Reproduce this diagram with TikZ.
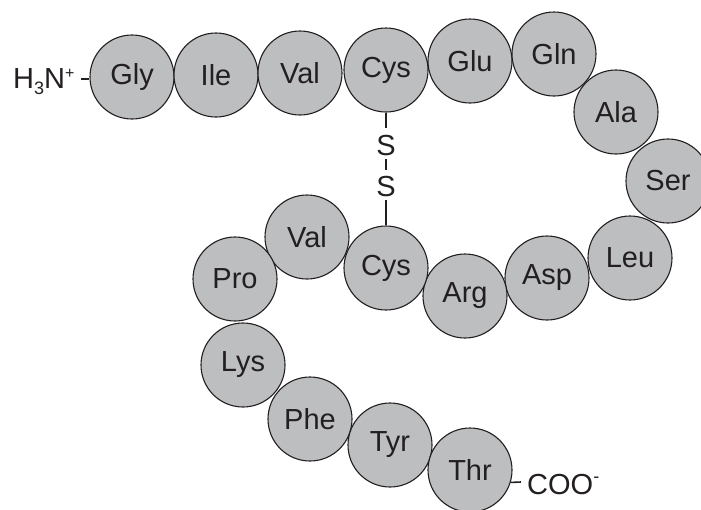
\documentclass[tikz,border=0pt]{standalone}
\usepackage{fontspec}
\setmainfont{Liberation Sans}
\definecolor{aafill}{RGB}{188,190,192}
\definecolor{ink}{RGB}{35,31,32}
\begin{document}
\begin{tikzpicture}[x=1pt,y=-1pt,
  aa/.style={circle,draw=ink,fill=aafill,line width=1.1pt,minimum size=84pt,inner sep=0pt,text=ink,font=\fontsize{29}{31}\selectfont},
  lbl/.style={inner sep=0pt,text=ink,font=\fontsize{29}{31}\selectfont},
  bond/.style={draw=ink,line width=1.6pt}]
\useasboundingbox (0,0) rectangle (701,509);
% backbone residues
\node[aa] (gly) at (132,77) {Gly};
\node[aa] (ile) at (216,75) {Ile};
\node[aa] (val1) at (300,73) {Val};
\node[aa] (cys1) at (386,70) {Cys};
\node[aa] (glu) at (470,61) {Glu};
\node[aa] (gln) at (554,54) {Gln};
\node[aa] (ala) at (616,112) {Ala};
\node[aa] (ser) at (668,181) {Ser};
\node[aa] (leu) at (630,258) {Leu};
\node[aa] (asp) at (547,278) {Asp};
\node[aa] (arg) at (465,296) {Arg};
\node[aa] (cys2) at (386,268) {Cys};
\node[aa] (val2) at (307,237) {Val};
\node[aa] (pro) at (235,279) {Pro};
\node[aa] (lys) at (243,365) {Lys};
\node[aa] (phe) at (310,419) {Phe};
\node[aa] (tyr) at (390,445) {Tyr};
\node[aa] (thr) at (470,470) {Thr};
% termini
\node[lbl,anchor=base west] (nterm) at (13,88) {H\raisebox{-6pt}{\fontsize{18}{20}\selectfont 3}N\raisebox{10pt}{\fontsize{16}{20}\selectfont +}};
\coordinate (ndash) at (81,79);
\draw[bond] (ndash) -- (gly.west |- ndash);
\node[lbl,anchor=base west] (cterm) at (527,494) {COO\raisebox{12pt}{\fontsize{18}{20}\selectfont -}};
\coordinate (cdash) at (521,482);
\draw[bond] (thr.-17) -- (cdash);
% disulfide bridge
\node[lbl] (s1) at (386,146) {S};
\node[lbl] (s2) at (386,187) {S};
\draw[bond] (cys1.south) -- ([yshift=8pt]s1.north);
\draw[bond] ([yshift=-3pt]s1.south) -- ([yshift=7pt]s2.north);
\draw[bond] ([yshift=-3pt]s2.south) -- (cys2.north);
\end{tikzpicture}
\end{document}
